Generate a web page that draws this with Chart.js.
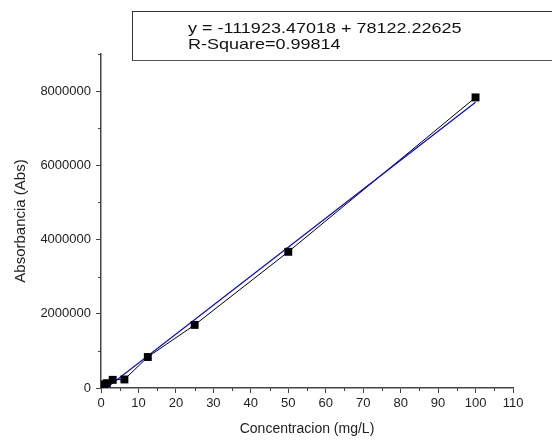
<!DOCTYPE html>
<html>
<head>
<meta charset="utf-8">
<script src="https://cdn.jsdelivr.net/npm/chart.js@4.4.1/dist/chart.umd.min.js"></script>
<style>
  body { margin: 0; background: #fff; }
  #wrap { position: relative; width: 552px; height: 442px; }
  #fitBox {
    position: absolute; left: 132px; top: 11px; width: 440px; height: 48px;
    border-top: 1.5px solid #333; border-bottom: 1.5px solid #555; border-left: 1.5px solid #333;
    font-family: "Liberation Sans", Arial, sans-serif; color: #111;
  }
  #fitBox div {
    position: absolute; left: 55px; font-size: 15px; line-height: 16px;
    transform: scaleX(1.2); transform-origin: left center; white-space: nowrap;
  }
</style>
</head>
<body>
<div id="wrap">
  <canvas id="myChart" width="552" height="442"></canvas>
  <div id="fitBox">
    <div style="top:8px">y = -111923.47018 + 78122.22625</div>
    <div style="top:24px">R-Square=0.99814</div>
  </div>
</div>
<script>
// concentracion (mg/L) vs absorbancia
const concentracion = [0.78, 1.56, 3.125, 6.25, 12.5, 25, 50, 100]
const absorbancia = [100000, 130000, 220000, 230000, 835000, 1700000, 3670000, 7830000]

// ends of the blue fitted line
const fitX = [0.78, 100]
const fitY = [-50000, 7700000]

const yTicks = [0, 2000000, 4000000, 6000000, 8000000]
const xMinorTicks = [5, 15, 25, 35, 45, 55, 65, 75, 85, 95, 105]
const yMinorTicks = [1000000, 3000000, 5000000, 7000000, 9000000]

const points = concentracion.map((x, i) => ({ x: x, y: absorbancia[i] }))
const fitPoints = fitX.map((x, i) => ({ x: x, y: fitY[i] }))

const axisColor = '#444'
const font = { family: '"Liberation Sans", Arial, sans-serif' }

// short unlabeled ticks between the major ones
const minorTicks = {
    id: 'minorTicks',
    afterDraw(chart) {
        const c = chart.ctx
        const xs = chart.scales.x
        const ys = chart.scales.y
        c.save()
        c.strokeStyle = axisColor
        c.lineWidth = 1
        xMinorTicks.forEach(v => {
            const px = Math.round(xs.getPixelForValue(v)) + 0.5
            c.beginPath()
            c.moveTo(px, xs.top)
            c.lineTo(px, xs.top + 3)
            c.stroke()
        })
        yMinorTicks.forEach(v => {
            const py = Math.round(ys.getPixelForValue(v)) + 0.5
            c.beginPath()
            c.moveTo(ys.right, py)
            c.lineTo(ys.right - 3, py)
            c.stroke()
        })
        c.restore()
    }
}

const ctx = document.getElementById('myChart').getContext('2d')

new Chart(ctx, {
    type: 'scatter',
    data: {
        datasets: [
            {
                data: points,
                showLine: true,
                borderColor: '#000',
                borderWidth: 1,
                pointRadius: 0,
                order: 3
            },
            {
                data: fitPoints,
                showLine: true,
                borderColor: '#0000f0',
                borderWidth: 1.2,
                pointRadius: 0,
                order: 2
            },
            {
                data: points,
                showLine: false,
                pointStyle: 'rect',
                pointRadius: 5.6,
                backgroundColor: '#000',
                borderColor: '#000',
                borderWidth: 0,
                order: 1
            }
        ]
    },
    options: {
        responsive: false,
        animation: false,
        layout: { padding: { top: 54, right: 39, left: 0, bottom: 0 } },
        plugins: {
            legend: { display: false },
            tooltip: { enabled: false }
        },
        scales: {
            x: {
                type: 'linear',
                min: 0,
                max: 110,
                afterFit: s => { s.height = 54 },
                border: { display: true, color: axisColor, width: 1.5 },
                grid: { drawOnChartArea: false, tickLength: 5, tickColor: axisColor },
                ticks: {
                    stepSize: 10,
                    padding: 3,
                    color: '#222',
                    font: Object.assign({ size: 13 }, font),
                    maxRotation: 0
                },
                title: {
                    display: true,
                    text: 'Concentracion (mg/L)',
                    color: '#222',
                    font: Object.assign({ size: 14 }, font),
                    padding: { top: 0, bottom: 4 }
                }
            },
            y: {
                type: 'linear',
                min: 0,
                max: 9000000,
                afterFit: s => { s.width = 101 },
                afterBuildTicks: s => { s.ticks = yTicks.map(v => ({ value: v })) },
                border: { display: true, color: axisColor, width: 1.5 },
                grid: { drawOnChartArea: false, tickLength: 5, tickColor: axisColor },
                ticks: {
                    padding: 5,
                    color: '#222',
                    font: Object.assign({ size: 13 }, font),
                    callback: v => String(v)
                },
                title: {
                    display: true,
                    text: 'Absorbancia (Abs)',
                    color: '#222',
                    font: Object.assign({ size: 15 }, font),
                    padding: { top: 12, bottom: 0 }
                }
            }
        }
    },
    plugins: [minorTicks]
})
</script>
</body>
</html>
